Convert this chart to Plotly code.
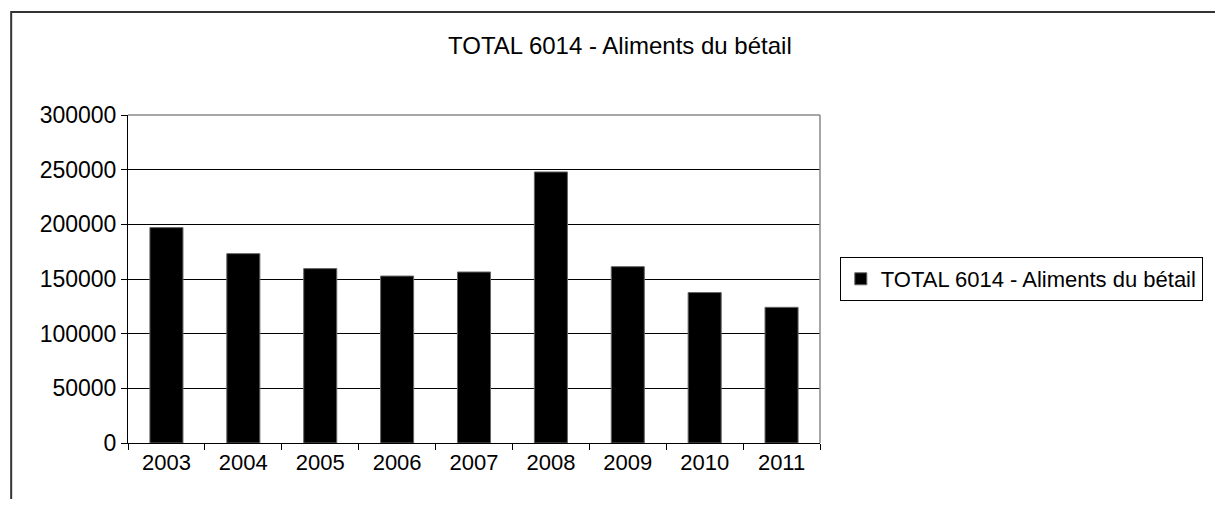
import plotly.graph_objects as go

# data
years = ["2003", "2004", "2005", "2006", "2007", "2008", "2009", "2010", "2011"]
totals = [197000, 173200, 159500, 152700, 156400, 247900, 161300, 137600, 124100]
series_name = "TOTAL 6014 - Aliments du bétail"
y_ticks = [0, 50000, 100000, 150000, 200000, 250000, 300000]

# the page body has an 8px margin; keep the figure well inside the window
OFF = 8
W, H = 1207, 491
# plot area in window pixels
L, R, T, B = 128, 827, 115, 443
pw, ph = R - L, B - T

def px(x):
    return (x - L) / pw

def py(y):
    return (B - y) / ph

font = "Liberation Sans, Arial, sans-serif"

fig = go.Figure()
fig.add_trace(go.Bar(
    x=years, y=totals, name=series_name,
    marker=dict(color="black", line=dict(color="#666", width=1)),
    showlegend=True
))

fig.update_layout(
    width=W, height=H,
    margin=dict(l=L - OFF, r=OFF + W - R, t=T - OFF, b=OFF + H - B),
    paper_bgcolor="white", plot_bgcolor="white",
    font=dict(family=font, size=22, color="black"),
    bargap=0.57,
    xaxis=dict(
        type="category", showgrid=False, showline=True, linecolor="black",
        linewidth=1, ticks="outside", tickson="boundaries", ticklen=6,
        tickcolor="black", tickfont=dict(size=22),
    ),
    yaxis=dict(
        range=[0, 300000], tickvals=y_ticks, tickformat="d",
        showgrid=True, gridcolor="black", gridwidth=1,
        showline=True, linecolor="black", linewidth=1,
        ticks="outside", ticklen=6, tickcolor="black", zeroline=False,
        tickfont=dict(size=23),
    ),
    legend=dict(
        x=px(847), y=py(279), xanchor="left", yanchor="middle",
        bordercolor="black", borderwidth=1, bgcolor="white",
        font=dict(size=22), itemwidth=30,
    ),
    shapes=[
        # outer chart frame
        dict(type="rect", xref="paper", yref="paper",
             x0=px(10), x1=px(1260), y0=py(540), y1=py(12),
             line=dict(color="#333", width=2), layer="below"),
        # grey top/right of plot area
        dict(type="line", xref="paper", yref="paper", x0=0, x1=1, y0=1, y1=1,
             line=dict(color="#888", width=1.5), layer="above"),
        dict(type="line", xref="paper", yref="paper", x0=1, x1=1, y0=0, y1=1,
             line=dict(color="#888", width=1.5), layer="above"),
    ],
    annotations=[
        dict(text=series_name, xref="paper", yref="paper",
             x=px(625), y=py(46), xanchor="center", yanchor="middle",
             showarrow=False, font=dict(size=24)),
    ],
)

fig.write_html("out.html")
